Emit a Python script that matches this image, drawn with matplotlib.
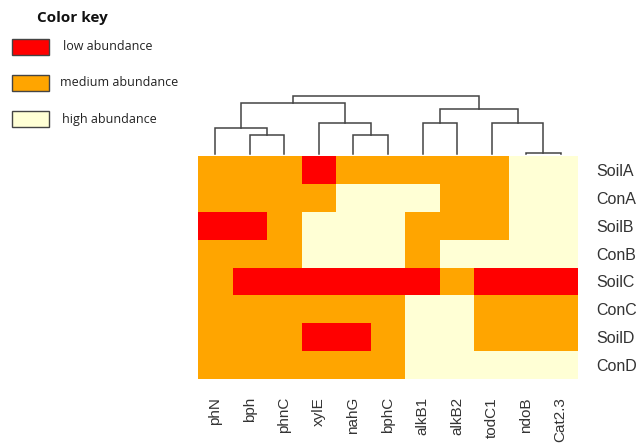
import matplotlib
matplotlib.use("Agg")
import matplotlib.pyplot as plt
import numpy as np
from matplotlib.colors import ListedColormap, BoundaryNorm
from matplotlib.patches import Rectangle

# Gene columns (dendrogram leaf order) and sample rows
genes = ["phN", "bph", "phnC", "xylE", "nahG", "bphC",
         "alkB1", "alkB2", "todC1", "ndoB", "Cat2.3"]
samples = ["SoilA", "ConA", "SoilB", "ConB", "SoilC", "ConC", "SoilD", "ConD"]

# Abundance level per sample/gene: 0 = low, 1 = medium, 2 = high
soilA = [1, 1, 1, 0, 1, 1, 1, 1, 1, 2, 2]
conA  = [1, 1, 1, 1, 2, 2, 2, 1, 1, 2, 2]
soilB = [0, 0, 1, 2, 2, 2, 1, 1, 1, 2, 2]
conB  = [1, 1, 1, 2, 2, 2, 1, 2, 2, 2, 2]
soilC = [1, 0, 0, 0, 0, 0, 0, 1, 0, 0, 0]
conC  = [1, 1, 1, 1, 1, 1, 2, 2, 1, 1, 1]
soilD = [1, 1, 1, 0, 0, 1, 2, 2, 1, 1, 1]
conD  = [1, 1, 1, 1, 1, 1, 2, 2, 2, 2, 2]

# Column clustering: (left node, right node, merge height); new nodes numbered from 11
merges = [
    (1, 2, 19),
    (0, 11, 26),
    (4, 5, 19),
    (3, 13, 31),
    (12, 14, 51),
    (6, 7, 31),
    (9, 10, 0.6),
    (8, 17, 31),
    (16, 18, 45),
    (15, 19, 58),
]

key_labels = ["low abundance", "medium abundance", "high abundance"]
key_colors = ["#FF0000", "#FFA500", "#FFFFD5"]

W, H = 643, 443
fig = plt.figure(figsize=(W / 100, H / 100), dpi=100)

def fx(px):
    return px / W

def fy(py):
    return 1 - py / H

# Heatmap
hm_left, hm_right, hm_top, hm_bot = 198, 578, 156, 379
ax = fig.add_axes([fx(hm_left), fy(hm_bot), fx(hm_right - hm_left), (hm_bot - hm_top) / H])
data = np.array([soilA, conA, soilB, conB, soilC, conC, soilD, conD])
cmap = ListedColormap(key_colors)
norm = BoundaryNorm([-0.5, 0.5, 1.5, 2.5], cmap.N)
ax.pcolormesh(data, cmap=cmap, norm=norm)
ax.set_xlim(0, len(genes))
ax.set_ylim(len(samples), 0)
for s in ax.spines.values():
    s.set_visible(False)
ax.set_xticks(np.arange(len(genes)) + 0.5)
ax.set_xticklabels(genes, rotation=90, family="Liberation Sans", fontsize=11, color="#333333")
ax.set_yticks(np.arange(len(samples)) + 0.5)
ax.set_yticklabels(samples, family="Liberation Sans", fontsize=11.5, color="#333333")
ax.yaxis.tick_right()
ax.tick_params(length=0, pad=13, axis="y")
ax.tick_params(length=0, pad=13, axis="x")

# Column dendrogram
dax = fig.add_axes([fx(hm_left), fy(154), fx(hm_right - hm_left), 62 / H])
dax.set_xlim(0, len(genes))
dax.set_ylim(0, 62)
dax.axis("off")
pos = {i: i + 0.5 for i in range(len(genes))}
hgt = {i: 0.0 for i in range(len(genes))}
node = len(genes)
for a, b, h in merges:
    xa, xb = pos[a], pos[b]
    dax.plot([xa, xa, xb, xb], [hgt[a], h, h, hgt[b]], color="#444444", lw=1.1,
             solid_joinstyle="miter", clip_on=False)
    pos[node] = (xa + xb) / 2
    hgt[node] = h
    node += 1

# Colour key
fig.text(fx(37), fy(18), "Color key", fontsize=11, fontweight="bold",
         family="Open Sans", va="center", ha="left", color="#111111")
key_y = [47, 83, 119]
text_x = [63, 60, 62]
for lab, col, yc, tx in zip(key_labels, key_colors, key_y, text_x):
    fig.patches.append(Rectangle((fx(12), fy(yc + 8)), fx(37), 16 / H,
                                 facecolor=col, edgecolor="#444444", lw=1.0,
                                 transform=fig.transFigure))
    fig.text(fx(tx), fy(yc), lab, fontsize=9, family="Open Sans",
             va="center", ha="left", color="#222222")

fig.savefig("out.png", dpi=100)
